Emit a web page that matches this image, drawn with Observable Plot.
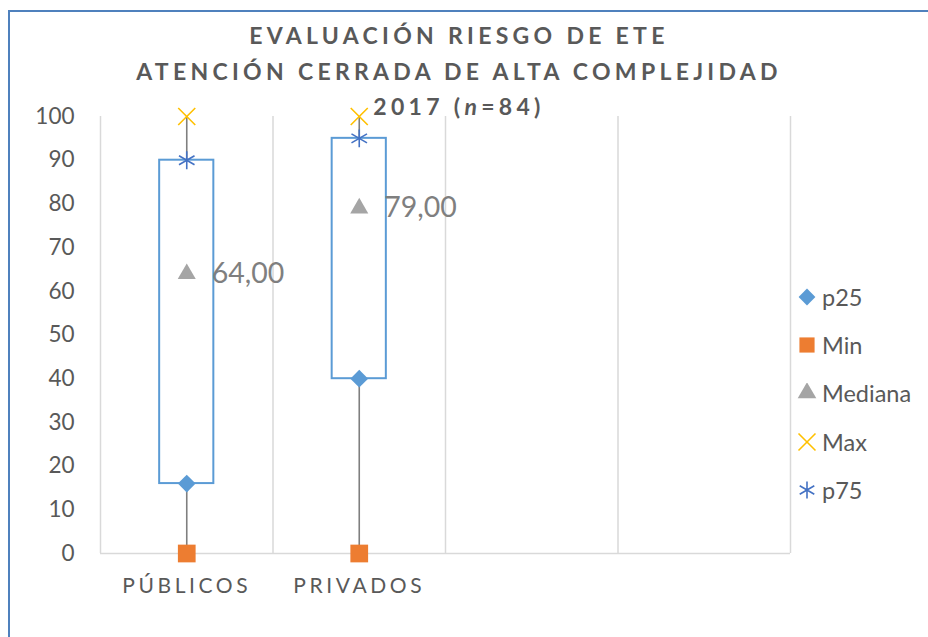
<!DOCTYPE html>
<html>
<head>
<meta charset="utf-8">
<script src="https://cdn.jsdelivr.net/npm/d3@7"></script>
<script src="https://cdn.jsdelivr.net/npm/@observablehq/plot@0.6"></script>
<style>
html, body { margin: 0; padding: 0; background: #fff; overflow: hidden; width: 928px; height: 637px; }
#wrap { position: relative; width: 928px; height: 637px; overflow: hidden; font-family: Lato, "Open Sans", sans-serif; }
#border { position: absolute; left: 8px; top: 10px; width: 1200px; height: 1200px; border: 2px solid #4f81bd; box-sizing: border-box; }
#chart { position: absolute; left: 0; top: 0; }
#title { position: absolute; left: 0; top: 18px; width: 914px; text-align: center; font-weight: bold; font-size: 23px; line-height: 35.5px; letter-spacing: 4.3px; color: #595959; padding-left: 4px; box-sizing: border-box; }
#legend { position: absolute; left: 797px; top: 0; }
.item { position: absolute; left: 0; height: 30px; display: flex; align-items: center; white-space: nowrap; font-size: 23.5px; color: #595959; }
.item svg { margin-right: 5px; }
.xlab text { letter-spacing: 3.6px; }
</style>
</head>
<body>
<div id="wrap">
  <div id="border"></div>
  <div id="chart"></div>
  <div id="title">EVALUACIÓN RIESGO DE ETE<br>ATENCIÓN CERRADA DE ALTA COMPLEJIDAD<br>2017 (<i>n</i>=84)</div>
  <div id="legend"></div>
</div>
<script>
// ---- data ----
const categories = ["PÚBLICOS", "PRIVADOS"];
const bandCount = 4; // two empty categories on the right
const minV   = [0, 0];
const p25    = [16, 40];
const median = [64, 79];
const p75    = [90, 95];
const maxV   = [100, 100];
const yTicks = [0, 10, 20, 30, 40, 50, 60, 70, 80, 90, 100];
const legendNames = ["p25", "Min", "Mediana", "Max", "p75"];

// ---- styles ----
const colors = { p25: "#5B9BD5", Min: "#ED7D31", Mediana: "#A5A5A5", Max: "#FFC000", p75: "#4472C4" };
const boxHalf = 0.157;
const fmt = v => v.toFixed(2).replace(".", ",");

const data = categories.map((c, i) => ({
  cat: c, x: i + 0.5, min: minV[i], p25: p25[i], med: median[i], p75: p75[i], max: maxV[i]
}));

const chart = Plot.plot({
  width: 928,
  height: 637,
  marginLeft: 100,
  marginRight: 138,
  marginTop: 116,
  marginBottom: 84,
  style: { fontFamily: "Lato, 'Open Sans', sans-serif", color: "#595959", background: "transparent", overflow: "visible" },
  x: { domain: [0, bandCount], axis: null },
  y: { domain: [0, 100], axis: null },
  marks: [
    Plot.ruleX(d3.range(bandCount + 1), { stroke: "#d9d9d9", strokeWidth: 1.5 }),
    Plot.ruleY([0], { stroke: "#d9d9d9", strokeWidth: 1.5 }),
    Plot.axisY({ ticks: yTicks, tickSize: 0, tickPadding: 26, fontSize: 22.5, fill: "#595959", label: null }),
    Plot.axisX({ ticks: categories.map((c, i) => i + 0.5), tickFormat: d => categories[Math.floor(d)], tickSize: 0, tickPadding: 25, fontSize: 21, fill: "#595959", className: "xlab", label: null }),
    Plot.ruleX(data, { x: "x", y1: "min", y2: "p25", stroke: "#7f7f7f", strokeWidth: 1.6 }),
    Plot.ruleX(data, { x: "x", y1: "p75", y2: "max", stroke: "#7f7f7f", strokeWidth: 1.6 }),
    Plot.rect(data, { x1: d => d.x - boxHalf, x2: d => d.x + boxHalf, y1: "p25", y2: "p75", fill: "none", stroke: "#5B9BD5", strokeWidth: 2 }),
    Plot.dot(data, { x: "x", y: "min", symbol: "square", r: 10, fill: colors.Min, stroke: "none" }),
    Plot.dot(data, { x: "x", y: "p25", symbol: "diamond2", r: 8, fill: colors.p25, stroke: "none" }),
    Plot.dot(data, { x: "x", y: "med", symbol: "triangle", r: 6.7, fill: colors.Mediana, stroke: "none" }),
    Plot.dot(data, { x: "x", y: "max", symbol: "times", r: 7.8, fill: "none", stroke: colors.Max, strokeWidth: 1.6 }),
    Plot.dot(data, { x: "x", y: "p75", symbol: "asterisk", r: 8.5, fill: "none", stroke: colors.p75, strokeWidth: 1.6 }),
    Plot.text(data, { x: "x", y: "med", text: d => fmt(d.med), dx: 25, textAnchor: "start", fontSize: 28.5, fill: "#7f7f7f" })
  ]
});
document.getElementById("chart").appendChild(chart);

// ---- legend ----
const symMap = { p25: d3.symbolDiamond2, Min: d3.symbolSquare, Mediana: d3.symbolTriangle, Max: d3.symbolTimes, p75: d3.symbolAsterisk };
const sizeMap = { p25: 180, Min: 230, Mediana: 150, Max: 190, p75: 200 };
const strokeSyms = new Set(["Max", "p75"]);
const legend = d3.select("#legend");
legendNames.forEach((name, k) => {
  const item = legend.append("div").attr("class", "item").style("top", (282 + k * 48.2) + "px");
  const svg = item.append("svg").attr("width", 20).attr("height", 20).attr("viewBox", "-10 -10 20 20");
  svg.append("path")
    .attr("d", d3.symbol(symMap[name], sizeMap[name])())
    .attr("fill", strokeSyms.has(name) ? "none" : colors[name])
    .attr("stroke", strokeSyms.has(name) ? colors[name] : "none")
    .attr("stroke-width", 1.6);
  item.append("span").text(name);
});
</script>
</body>
</html>
